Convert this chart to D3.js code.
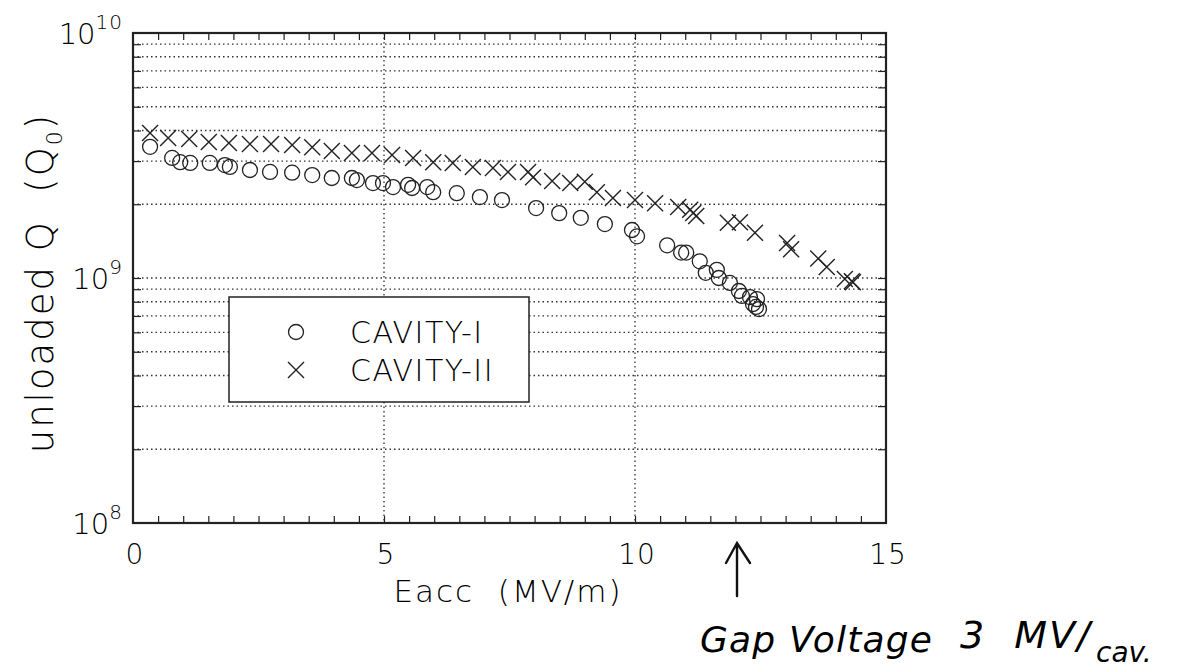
<!DOCTYPE html>
<html><head><meta charset="utf-8">
<script src="https://cdn.jsdelivr.net/npm/d3@7"></script>
<style>
body{margin:0;background:#fff;}
text{font-family:"DejaVu Sans","Noto Sans",sans-serif;fill:#000;}
</style></head>
<body><svg id="c" width="1191" height="670"></svg>
<script>
// Data
const cav1E = [0.34,0.78,0.94,1.14,1.53,1.83,1.93,2.33,2.73,3.17,3.57,3.96,4.36,4.46,4.78,4.98,5.18,5.48,5.56,5.86,5.98,6.45,6.91,7.35,8.03,8.49,8.92,9.40,9.94,10.04,10.64,10.92,11.02,11.29,11.41,11.63,11.67,11.89,12.07,12.13,12.29,12.43,12.41,12.47,12.35];
const cav1Q = [3.43e9,3.09e9,2.97e9,2.95e9,2.95e9,2.89e9,2.84e9,2.76e9,2.71e9,2.69e9,2.63e9,2.56e9,2.56e9,2.51e9,2.44e9,2.44e9,2.35e9,2.40e9,2.33e9,2.35e9,2.24e9,2.22e9,2.14e9,2.08e9,1.93e9,1.84e9,1.76e9,1.66e9,1.57e9,1.48e9,1.36e9,1.27e9,1.27e9,1.17e9,1.05e9,1.08e9,1.00e9,0.955e9,0.885e9,0.845e9,0.836e9,0.82e9,0.762e9,0.747e9,0.783e9];
const cav2E = [0.34,0.70,1.12,1.51,1.91,2.33,2.75,3.17,3.57,3.96,4.36,4.76,5.16,5.58,5.98,6.37,6.77,7.17,7.47,7.87,7.97,8.35,8.71,9.00,9.24,9.56,10.0,10.40,10.86,11.10,11.16,11.22,11.85,12.09,12.39,13.03,13.11,13.65,13.82,14.18,14.34,14.32];
const cav2Q = [3.91e9,3.73e9,3.69e9,3.59e9,3.56e9,3.52e9,3.52e9,3.49e9,3.42e9,3.30e9,3.24e9,3.24e9,3.18e9,3.09e9,2.97e9,2.95e9,2.84e9,2.81e9,2.71e9,2.71e9,2.58e9,2.49e9,2.44e9,2.47e9,2.24e9,2.12e9,2.08e9,2.02e9,1.95e9,1.90e9,1.84e9,1.79e9,1.68e9,1.69e9,1.53e9,1.39e9,1.31e9,1.20e9,1.11e9,0.99e9,0.96e9,0.97e9];
const xTicks = [0,5,10,15];
const yTicks = [1e8,1e9,1e10];
const yTickExp = ["8","9","10"];
const seriesNames = ["CAVITY-I","CAVITY-II"];
const xLabel = "Eacc\u00a0\u00a0(MV/m)";
const noteText = "Gap Voltage";

const svg = d3.select("#c");
const L=133,R=886,T=33,B=523;
const x = d3.scaleLinear().domain([0,15]).range([L,R]);
const y = d3.scaleLog().domain([1e8,1e10]).range([B,T]);
const ink="#222";

// grid
const minors=[];
[1e8,1e9].forEach(d=>{for(let k=2;k<=9;k++)minors.push(d*k);});
const gridY = minors.concat([1e9]);
svg.append("g").selectAll("line").data(gridY).join("line")
 .attr("x1",L).attr("x2",R).attr("y1",d=>y(d)).attr("y2",d=>y(d))
 .attr("stroke","#333").attr("stroke-width",1.3).attr("stroke-dasharray","1.5,3");
svg.append("g").selectAll("line").data([5,10]).join("line")
 .attr("y1",T).attr("y2",B).attr("x1",d=>x(d)).attr("x2",d=>x(d))
 .attr("stroke","#333").attr("stroke-width",1.3).attr("stroke-dasharray","1.5,3");

// axes ticks
const xMinor=d3.range(0.5,15,0.5);
const axB=d3.axisBottom(x).tickValues(xMinor).tickSize(-7).tickFormat("");
const axT=d3.axisTop(x).tickValues(xMinor).tickSize(-7).tickFormat("");
const yAll=minors.concat([1e9]);
const axL=d3.axisLeft(y).tickValues(yAll).tickSize(-8).tickFormat("");
const axR=d3.axisRight(y).tickValues(yAll).tickSize(-8).tickFormat("");
[[axB,`translate(0,${B})`],[axT,`translate(0,${T})`],[axL,`translate(${L},0)`],[axR,`translate(${R},0)`]].forEach(([a,t])=>{
  const g=svg.append("g").attr("transform",t).call(a);
  g.select(".domain").remove();
  g.selectAll("line").attr("stroke",ink).attr("stroke-width",1.2);
});
svg.append("rect").attr("x",L).attr("y",T).attr("width",R-L).attr("height",B-T)
 .attr("fill","none").attr("stroke",ink).attr("stroke-width",2.2);

// tick labels
svg.append("g").selectAll("text").data(xTicks).join("text")
 .attr("x",d=>x(d)+2).attr("y",B+41).attr("text-anchor","middle")
 .attr("font-size",28).attr("font-weight",200).attr("letter-spacing",1).text(d=>d);
const yl=svg.append("g").selectAll("text").data(yTicks).join("text")
 .attr("x",L-10).attr("y",d=>y(d)+11).attr("text-anchor","end")
 .attr("font-size",29).attr("font-weight",200);
yl.append("tspan").text("10");
yl.append("tspan").attr("dy",-15).attr("font-size",20).attr("letter-spacing",1).text((d,i)=>yTickExp[i]);

// axis titles
svg.append("text").attr("x",508).attr("y",602).attr("text-anchor","middle")
 .attr("font-size",31).attr("font-weight",200).attr("letter-spacing",2).text(xLabel);
const yt=svg.append("text").attr("transform","translate(53,283) rotate(-90)")
 .attr("text-anchor","middle").attr("font-size",37).attr("font-weight",200).attr("letter-spacing",2);
yt.append("tspan").text("unloaded Q\u00a0\u00a0(Q");
yt.append("tspan").attr("dy",9).attr("font-size",22).text("0");
yt.append("tspan").attr("dy",-9).text(")");

// data
const d1=cav1E.map((e,i)=>({e,q:cav1Q[i]}));
const d2=cav2E.map((e,i)=>({e,q:cav2Q[i]}));
svg.append("g").selectAll("circle").data(d1).join("circle")
 .attr("cx",d=>x(d.e)).attr("cy",d=>y(d.q)).attr("r",7.5)
 .attr("fill","none").attr("stroke",ink).attr("stroke-width",1.3);
svg.append("g").selectAll("path").data(d2).join("path")
 .attr("d",d=>{const cx=x(d.e),cy=y(d.q),s=8;return `M${cx-s},${cy-s}L${cx+s},${cy+s}M${cx-s},${cy+s}L${cx+s},${cy-s}`;})
 .attr("stroke",ink).attr("stroke-width",1.4).attr("fill","none");

// legend
const lg=svg.append("g");
lg.append("rect").attr("x",229).attr("y",297).attr("width",300).attr("height",105)
 .attr("fill","#fff").attr("stroke",ink).attr("stroke-width",1.5);
lg.append("circle").attr("cx",296).attr("cy",332).attr("r",7.5).attr("fill","none").attr("stroke",ink).attr("stroke-width",1.3);
lg.append("path").attr("d","M288,362L304,378M288,378L304,362").attr("stroke",ink).attr("stroke-width",1.4);
lg.selectAll("text").data(seriesNames).join("text")
 .attr("x",350).attr("y",(d,i)=>343+i*38).attr("font-size",30).attr("font-weight",200)
 .attr("letter-spacing",1.5).text(d=>d);

// annotation
svg.append("path").attr("d","M737,596L737,545M726,563L737,543L750,563")
 .attr("stroke","#111").attr("stroke-width",2.4).attr("fill","none").attr("stroke-linecap","round");
svg.append("text").attr("x",700).attr("y",652).attr("font-size",36)
 .attr("font-style","italic").attr("textLength",232).text(noteText);
svg.append("text").attr("x",960).attr("y",648).attr("font-size",38)
 .attr("font-style","italic").attr("letter-spacing",2).text("3\u00a0\u00a0MV/");
svg.append("text").attr("x",1096).attr("y",662).attr("font-size",28)
 .attr("font-style","italic").text("cav.");
</script></body></html>
